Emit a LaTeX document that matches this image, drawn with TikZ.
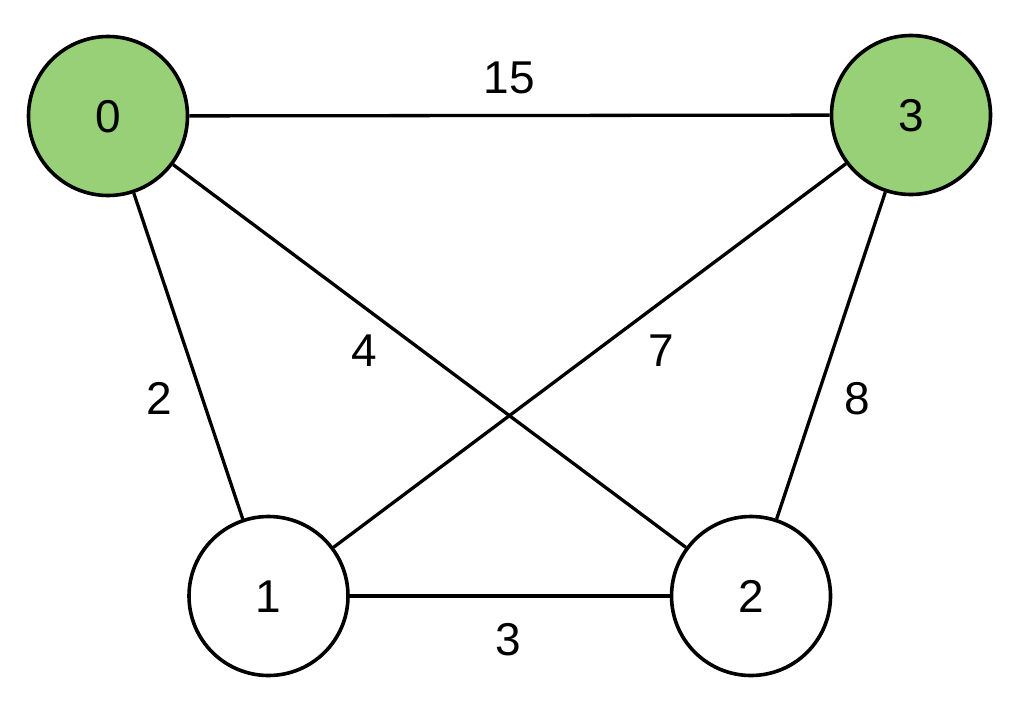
\documentclass[tikz,border=0pt]{standalone}
\usepackage{fontspec}
\setmainfont{Liberation Sans}
\definecolor{nodegreen}{HTML}{97D077}
\begin{document}
\begin{tikzpicture}[x=1pt,y=-1pt,
  vertex/.style={circle,draw=black,line width=3.6pt,minimum size=159pt,inner sep=0pt,
    font=\fontsize{46pt}{46pt}\selectfont,text height=33pt,text depth=0pt},
  green/.style={fill=nodegreen},
  white/.style={fill=white},
  wlabel/.style={inner sep=0pt,font=\fontsize{46pt}{46pt}\selectfont,text height=33pt,text depth=0pt},
  edge/.style={draw=black,line width=3.3pt}]
\useasboundingbox (0,0) rectangle (1024,701);
\fill[white] (0,0) rectangle (1024,701);
\node[vertex,green] (n0) at (108,116) {0};
\node[vertex,green] (n3) at (911,115) {3};
\node[vertex,white] (n1) at (268.5,596) {1};
\node[vertex,white] (n2) at (751,596) {2};
\draw[edge] (n0) -- (n3);
\draw[edge] (n0) -- (n1);
\draw[edge] (n0) -- (n2);
\draw[edge] (n3) -- (n1);
\draw[edge] (n3) -- (n2);
\draw[edge] (n1) -- (n2);
\node[wlabel] (l15) at (509,76.5) {15};
\node[wlabel] (l2) at (159.5,398) {2};
\node[wlabel] (l4) at (364.5,350) {4};
\node[wlabel] (l7) at (661,350) {7};
\node[wlabel] (l8) at (857.5,398) {8};
\node[wlabel] (l3) at (508.5,639) {3};
\end{tikzpicture}
\end{document}
